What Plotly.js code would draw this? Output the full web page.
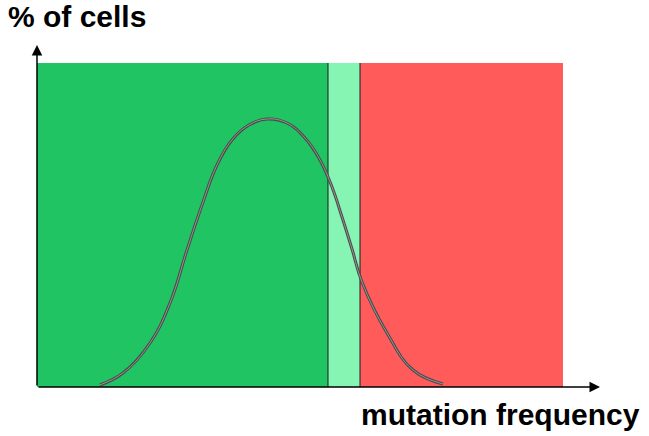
<!DOCTYPE html>
<html>
<head>
<meta charset="utf-8">
<script src="https://cdn.plot.ly/plotly-3.0.1.min.js"></script>
<style>
  html, body { margin: 0; padding: 0; background: #fff; }
  #chart { width: 649px; height: 436px; }
</style>
</head>
<body>
<div id="chart"></div>
<script>
  // Schematic: x = mutation frequency, y = % of cells (arbitrary units)
  var ZONE_NAMES = ["low", "threshold", "high"];
  var ZONE_START = [0, 291, 323];
  var ZONE_END = [291, 323, 526];
  var ZONE_TOP = [324, 324, 324];
  var ZONE_COLORS = ["#21c463", "#86f4b2", "#ff5b5b"];
  var DIVIDERS = [291, 323];

  var CURVE_X = [63, 86, 113, 133, 150, 165, 180, 195, 212, 230, 250, 268, 283, 295, 305, 315, 325, 350, 376, 406];
  var CURVE_Y = [2, 14, 44, 84, 137, 182, 222, 247, 262, 268, 264, 249, 227, 200, 170, 138, 105, 54, 17, 3];

  var X_MAX = 563, Y_MAX = 342;

  var shapes = ZONE_NAMES.map(function (n, i) {
    return {
      type: "rect", layer: "below", xref: "x", yref: "y",
      x0: ZONE_START[i], x1: ZONE_END[i], y0: 0, y1: ZONE_TOP[i],
      fillcolor: ZONE_COLORS[i], line: { width: 0 }
    };
  });
  DIVIDERS.forEach(function (d) {
    shapes.push({
      type: "line", layer: "below", xref: "x", yref: "y",
      x0: d, x1: d, y0: 0, y1: ZONE_TOP[0],
      line: { color: "#1a1a1a", width: 1 }
    });
  });

  var traces = [
    { type: "scatter", mode: "lines", x: CURVE_X, y: CURVE_Y, hoverinfo: "skip",
      line: { shape: "spline", smoothing: 1.2, color: "#4a4a4a", width: 3 } },
    { type: "scatter", mode: "lines", x: CURVE_X, y: CURVE_Y, hoverinfo: "skip",
      line: { shape: "spline", smoothing: 1.2, color: "#a8a8a8", width: 0.8 } }
  ];

  var arrowStyle = { text: "", showarrow: true, arrowhead: 2, arrowsize: 1.4,
    arrowwidth: 1.5, arrowcolor: "#000", standoff: 0, startstandoff: 0,
    xref: "x", yref: "y", axref: "x", ayref: "y" };

  var FONT = { family: "Liberation Sans, Arial, sans-serif", size: 30, color: "#000", weight: "bold" };

  var layout = {
    width: 649, height: 436,
    margin: { l: 37, r: 49, t: 45, b: 49 },
    paper_bgcolor: "#fff", plot_bgcolor: "rgba(0,0,0,0)",
    showlegend: false,
    xaxis: { range: [0, X_MAX], visible: false, fixedrange: true },
    yaxis: { range: [0, Y_MAX], visible: false, fixedrange: true },
    shapes: shapes,
    annotations: [
      Object.assign({}, arrowStyle, { x: X_MAX, y: 0, ax: 0, ay: 0 }),
      Object.assign({}, arrowStyle, { x: 0, y: Y_MAX, ax: 0, ay: 0 }),
      { text: "% of cells", showarrow: false, xref: "paper", yref: "paper",
        x: -0.055, y: 1.03, xanchor: "left", yanchor: "bottom", font: FONT },
      { text: "mutation frequency", showarrow: false, xref: "paper", yref: "paper",
        x: 1.075, y: -0.025, xanchor: "right", yanchor: "top", font: FONT }
    ]
  };

  Plotly.newPlot("chart", traces, layout, { staticPlot: true, displayModeBar: false });
</script>
</body>
</html>
